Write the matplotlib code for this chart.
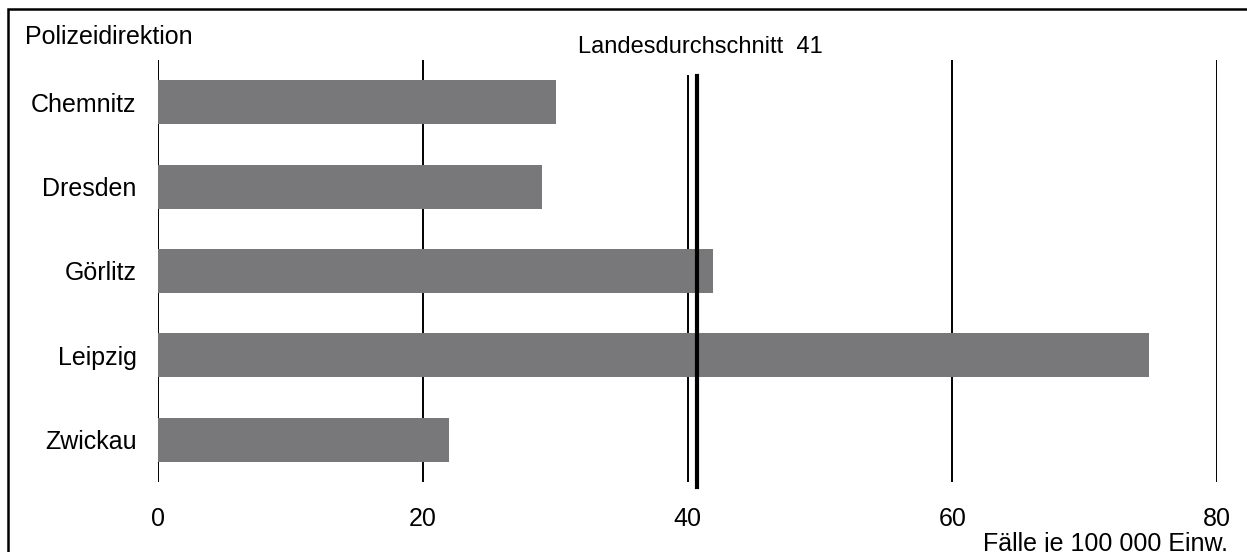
import matplotlib.pyplot as plt
from matplotlib.patches import Rectangle

plt.rcParams["font.family"] = ["Liberation Sans", "DejaVu Sans"]

# data
regions = ["Chemnitz", "Dresden", "Görlitz", "Leipzig", "Zwickau"]
cases = [30.1, 29.0, 41.9, 74.9, 22.0]
state_avg = 40.7
avg_label = "Landesdurchschnitt  41"
xticks = [0, 20, 40, 60, 80]

fig = plt.figure(figsize=(12.47, 5.52), dpi=100)
ax = fig.add_axes([158 / 1247, 1 - 482 / 552, (1217 - 158) / 1247, (482 - 60) / 552])

# frame around the figure (cut off at right and bottom like the original)
fig.patches.append(
    Rectangle((8 / 1247, -0.1), 1.2, 1 - 9 / 552 + 0.1, transform=fig.transFigure,
              fill=False, edgecolor="black", linewidth=1.8)
)

# vertical grid lines, the one at 40 is shortened below the label
for x in xticks:
    top = (482 - 76) / 422 if x == 40 else 1.0
    ax.axvline(x, ymin=0, ymax=top, color="black", linewidth=1.4, zorder=1)

ax.barh(range(len(regions)), cases, height=0.52, color="#78787a", zorder=2)

ax.axvline(state_avg, ymin=-5 / 422, ymax=(482 - 76) / 422, color="black",
           linewidth=3.0, zorder=3, clip_on=False)

ax.set_xlim(0, 80)
ax.set_ylim(len(regions) - 0.5, -0.5)
ax.set_yticks(range(len(regions)))
ax.set_yticklabels(regions, fontsize=18)
ax.set_xticks(xticks)
ax.set_xticklabels([str(x) for x in xticks], fontsize=18)
ax.tick_params(length=0)
ax.tick_params(axis="y", pad=15.5)
ax.tick_params(axis="x", pad=18)
for s in ax.spines.values():
    s.set_visible(False)

fig.text(25 / 1247, 1 - 37 / 552, "Polizeidirektion", fontsize=18, ha="left", va="center")
fig.text(700 / 1247, 1 - 47 / 552, avg_label, fontsize=17, ha="center", va="center")
fig.text(1228 / 1247, 1 - 544 / 552, "Fälle je 100 000 Einw.", fontsize=18,
         ha="right", va="center",
         bbox=dict(facecolor="white", edgecolor="none", pad=0))

fig.savefig("out.png", dpi=100)
